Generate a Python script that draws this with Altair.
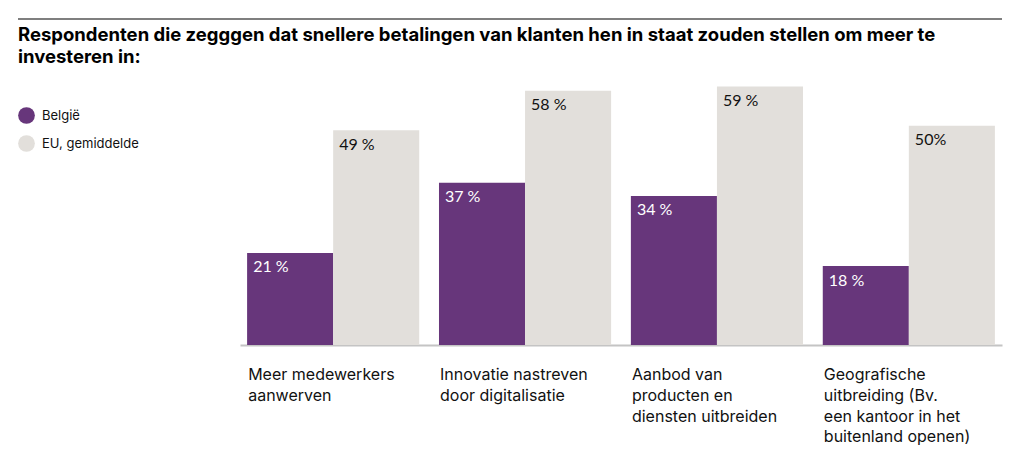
import altair as alt
import pandas as pd

# ---- data ----
categories = [
    "Meer medewerkers aanwerven",
    "Innovatie nastreven door digitalisatie",
    "Aanbod van producten en diensten uitbreiden",
    "Geografische uitbreiding (Bv. een kantoor in het buitenland openen)",
]
category_labels = [
    "Meer medewerkers\naanwerven",
    "Innovatie nastreven\ndoor digitalisatie",
    "Aanbod van\nproducten en\ndiensten uitbreiden",
    "Geografische\nuitbreiding (Bv.\neen kantoor in het\nbuitenland openen)",
]
series = ["België", "EU, gemiddelde"]
belgie = [21, 37, 34, 18]
eu_avg = [49, 58, 59, 50]
belgie_text = ["21\u202f%", "37\u202f%", "34\u202f%", "18 %"]
eu_text = ["49\u202f%", "58\u202f%", "59\u202f%", "50%"]
title_text = ("Respondenten die zegggen dat snellere betalingen van klanten hen in staat zouden stellen om meer te\n"
              "investeren in:")

colors = ["#67367b", "#e2dfdb"]

rows = []
for i, c in enumerate(categories):
    rows.append({"cat": c, "series": series[0], "value": belgie[i], "label": belgie_text[i]})
    rows.append({"cat": c, "series": series[1], "value": eu_avg[i], "label": eu_text[i]})
df = pd.DataFrame(rows)
cat_df = pd.DataFrame({"cat": categories, "lab": category_labels})

W, H = 762, 263

xscale = alt.Scale(domain=categories, paddingInner=0.103, paddingOuter=0.037)
yscale = alt.Scale(domain=[0, 60], nice=False)

x_enc = alt.X("cat:N", scale=xscale, sort=categories,
              axis=alt.Axis(labels=False, ticks=False, title=None, domain=True,
                            domainColor="#c4c4c4", domainWidth=2))
xoff = alt.XOffset("series:N", scale=alt.Scale(domain=series, paddingInner=0, paddingOuter=0))

bars = alt.Chart(df).mark_bar().encode(
    x=x_enc,
    xOffset=xoff,
    y=alt.Y("value:Q", scale=yscale, axis=None),
    color=alt.Color("series:N", scale=alt.Scale(domain=series, range=colors),
                    legend=alt.Legend(title=None, orient="none", legendX=-222, legendY=25,
                                      symbolType="circle", symbolSize=280, symbolStrokeWidth=0,
                                      labelFont="Inter", labelFontSize=13, labelColor="#111111",
                                      labelOffset=7, rowPadding=11, padding=0)),
)

vals = alt.Chart(df).mark_text(align="left", baseline="alphabetic", dx=-37, dy=19.5,
                               font="Lato", fontSize=16).encode(
    x=alt.X("cat:N", scale=xscale, sort=categories),
    xOffset=xoff,
    y=alt.Y("value:Q", scale=yscale),
    text="label:N",
    color=alt.condition(alt.datum.series == series[0], alt.value("white"), alt.value("#111111")),
)

cat_text = alt.Chart(cat_df).mark_text(align="left", baseline="alphabetic", dx=-85,
                                       lineBreak="\n", lineHeight=20.8,
                                       font="Inter", fontSize=16, color="#111111").encode(
    x=alt.X("cat:N", scale=xscale, sort=categories),
    y=alt.value(298),
    text="lab:N",
)

title = alt.Chart(pd.DataFrame({"t": [title_text]})).mark_text(
    align="left", baseline="alphabetic", lineBreak="\n", lineHeight=22.5,
    font="Inter", fontSize=18.5, fontWeight="bold", color="#000000").encode(
    x=alt.value(-222), y=alt.value(-41.3), text="t:N")

top_rule = alt.Chart(pd.DataFrame({"a": [0]})).mark_rule(color="#555555", strokeWidth=1.5).encode(
    x=alt.value(-222), x2=alt.value(762), y=alt.value(-63))

chart = alt.layer(top_rule, title, bars, vals, cat_text).properties(
    width=W, height=H,
    autosize=alt.AutoSizeParams(type="none"),
    padding={"left": 232, "top": 74, "right": 12, "bottom": 107},
).configure_view(stroke=None)

chart.save("out.html", embed_options={"renderer": "svg", "actions": False})
